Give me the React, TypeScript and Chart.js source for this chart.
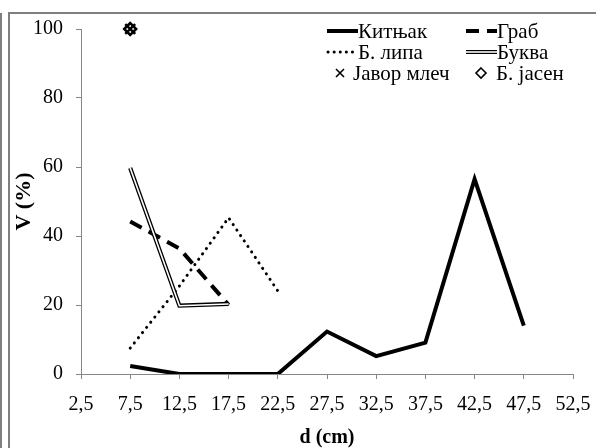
import { useEffect, useRef } from 'react';
import { Chart, registerables } from 'chart.js';

Chart.register(...registerables);

// Stem diameter classes (cm) and the share of volume per species (%)
const diameters = [7.5, 12.5, 17.5, 22.5, 27.5, 32.5, 37.5, 42.5, 47.5];
const xTickValues = [2.5, 7.5, 12.5, 17.5, 22.5, 27.5, 32.5, 37.5, 42.5, 47.5, 52.5];
const yTickValues = [0, 20, 40, 60, 80, 100];

const kitnjak = [2.3, 0, 0, 0, 12.3, 5.2, 9.1, 56.5, 14.0];
const grab = [44.2, 36.4, 20.0, null, null, null, null, null, null];
const lipa = [7.5, 25.5, 45.3, 24.1, null, null, null, null, null];
const bukva = [59.7, 19.8, 20.3, null, null, null, null, null, null];
const javor = [100, null, null, null, null, null, null, null, null];
const jasen = [100, null, null, null, null, null, null, null, null];

const FONT = '"Liberation Serif", "Times New Roman", serif';
const AXIS_GREY = '#868686';

function toPoints(values: (number | null)[]) {
  return diameters
    .map((d, i) => ({ x: d, y: values[i] }))
    .filter((p) => p.y !== null) as { x: number; y: number }[];
}

const fmt = (v: number) => v.toFixed(1).replace('.', ',');

// Grey frame lines along the left and top edges
const framePlugin = {
  id: 'frame',
  beforeDraw(chart: Chart) {
    const ctx = chart.ctx;
    ctx.save();
    ctx.strokeStyle = '#7f7f7f';
    ctx.lineWidth = 2;
    ctx.beginPath();
    ctx.moveTo(1, 13);
    ctx.lineTo(1, chart.height);
    ctx.moveTo(9, chart.height);
    ctx.lineTo(9, 13);
    ctx.lineTo(chart.width, 13);
    ctx.stroke();
    ctx.restore();
  },
};

// Two-column legend in the upper right corner
const legendPlugin = {
  id: 'speciesLegend',
  afterDraw(chart: Chart) {
    const ctx = chart.ctx;
    ctx.save();
    ctx.font = `21px ${FONT}`;
    ctx.fillStyle = '#000';
    ctx.textBaseline = 'middle';
    ctx.textAlign = 'left';

    const seg = (x1: number, x2: number, y: number, w: number, dash: number[], cap: CanvasLineCap, color = '#000') => {
      ctx.beginPath();
      ctx.setLineDash(dash);
      ctx.lineCap = cap;
      ctx.lineWidth = w;
      ctx.strokeStyle = color;
      ctx.moveTo(x1, y);
      ctx.lineTo(x2, y);
      ctx.stroke();
      ctx.setLineDash([]);
    };

    const r1 = 31, r2 = 52, r3 = 73;
    const c1 = 327, c2 = 466;

    seg(c1, c1 + 31, r1, 4, [], 'butt');
    ctx.fillText('Китњак', c1 + 31, r1 + 1);

    seg(c2, c2 + 31, r1, 4, [13, 8], 'butt');
    ctx.fillText('Граб', c2 + 31, r1 + 1);

    seg(c1 + 1, c1 + 31, r2, 3, [0.1, 6], 'round');
    ctx.fillText('Б. липа', c1 + 31, r2 + 1);

    seg(c2, c2 + 31, r2, 4, [], 'butt');
    seg(c2, c2 + 31, r2, 1.6, [], 'butt', '#fff');
    ctx.fillText('Буква', c2 + 31, r2 + 1);

    // cross marker
    ctx.strokeStyle = '#000';
    ctx.lineWidth = 1.6;
    ctx.beginPath();
    ctx.moveTo(336, r3 - 4);
    ctx.lineTo(344, r3 + 4);
    ctx.moveTo(344, r3 - 4);
    ctx.lineTo(336, r3 + 4);
    ctx.stroke();
    ctx.fillText('Јавор млеч', 353, r3 + 1);

    // diamond marker
    ctx.beginPath();
    ctx.moveTo(481, r3 - 5);
    ctx.lineTo(486, r3);
    ctx.lineTo(481, r3 + 5);
    ctx.lineTo(476, r3);
    ctx.closePath();
    ctx.stroke();
    ctx.fillText('Б. јасен', 496, r3 + 1);

    ctx.restore();
  },
};

export default function App() {
  const canvasRef = useRef<HTMLCanvasElement | null>(null);

  useEffect(() => {
    document.body.style.margin = '0';
    const canvas = canvasRef.current;
    if (!canvas) return;

    const chart = new Chart(canvas, {
      type: 'line',
      data: {
        datasets: [
          {
            label: 'Буква-inner',
            data: toPoints(bukva),
            borderColor: '#fff',
            borderWidth: 1.6,
            pointRadius: 0,
            order: 0,
          },
          {
            label: 'Буква',
            data: toPoints(bukva),
            borderColor: '#000',
            borderWidth: 4.2,
            pointRadius: 0,
            order: 1,
          },
          {
            label: 'Китњак',
            data: toPoints(kitnjak),
            borderColor: '#000',
            borderWidth: 4,
            pointRadius: 0,
            order: 2,
          },
          {
            label: 'Граб',
            data: toPoints(grab),
            borderColor: '#000',
            borderWidth: 4,
            borderDash: [13, 8],
            pointRadius: 0,
            order: 3,
          },
          {
            label: 'Б. липа',
            data: toPoints(lipa),
            borderColor: '#000',
            borderWidth: 3,
            borderDash: [0.1, 6.5],
            borderCapStyle: 'round',
            pointRadius: 0,
            order: 4,
          },
          {
            label: 'Јавор млеч',
            data: toPoints(javor),
            showLine: false,
            clip: false,
            pointStyle: 'crossRot',
            pointRadius: 7,
            borderColor: '#000',
            borderWidth: 2.5,
            order: 5,
          },
          {
            label: 'Б. јасен',
            data: toPoints(jasen),
            showLine: false,
            clip: false,
            pointStyle: 'rectRot',
            pointRadius: 6,
            borderColor: '#000',
            backgroundColor: 'rgba(0,0,0,0)',
            borderWidth: 2.5,
            order: 6,
          },
        ],
      },
      options: {
        responsive: false,
        animation: false,
        devicePixelRatio: 1,
        layout: { padding: { left: 0, top: 29, right: 23, bottom: 0 } },
        elements: { line: { tension: 0, borderJoinStyle: 'miter' } },
        plugins: {
          legend: { display: false },
          tooltip: { enabled: false },
        },
        scales: {
          x: {
            type: 'linear',
            min: 2.5,
            max: 52.5,
            afterFit: (scale: any) => {
              scale.height = 74;
            },
            afterBuildTicks: (scale: any) => {
              scale.ticks = xTickValues.map((v) => ({ value: v }));
            },
            grid: {
              display: true,
              drawOnChartArea: false,
              drawTicks: true,
              tickLength: 5,
              color: AXIS_GREY,
            },
            border: { color: AXIS_GREY, width: 1 },
            ticks: {
              autoSkip: false,
              maxRotation: 0,
              padding: 4,
              color: '#000',
              font: { family: FONT, size: 20, lineHeight: 2.2 },
              callback: (v: any) => fmt(Number(v)),
            },
            title: {
              display: true,
              text: 'd (cm)',
              color: '#000',
              font: { family: FONT, size: 20, weight: 'bold', lineHeight: 1 },
              padding: { top: 0, bottom: 0 },
            },
          },
          y: {
            type: 'linear',
            min: 0,
            max: 100,
            afterFit: (scale: any) => {
              scale.width = 81;
            },
            afterBuildTicks: (scale: any) => {
              scale.ticks = yTickValues.map((v) => ({ value: v }));
            },
            grid: {
              display: true,
              drawOnChartArea: false,
              drawTicks: true,
              tickLength: 5,
              color: AXIS_GREY,
            },
            border: { color: AXIS_GREY, width: 1 },
            ticks: {
              padding: 13,
              color: '#000',
              font: { family: FONT, size: 20 },
            },
            title: {
              display: true,
              text: 'V (%)',
              color: '#000',
              font: { family: FONT, size: 22, weight: 'bold', lineHeight: 1 },
              padding: { top: 13, bottom: 0 },
            },
          },
        },
      },
      plugins: [framePlugin, legendPlugin],
    } as any);

    return () => chart.destroy();
  }, []);

  return <canvas ref={canvasRef} width={596} height={448} style={{ display: 'block' }} />;
}
